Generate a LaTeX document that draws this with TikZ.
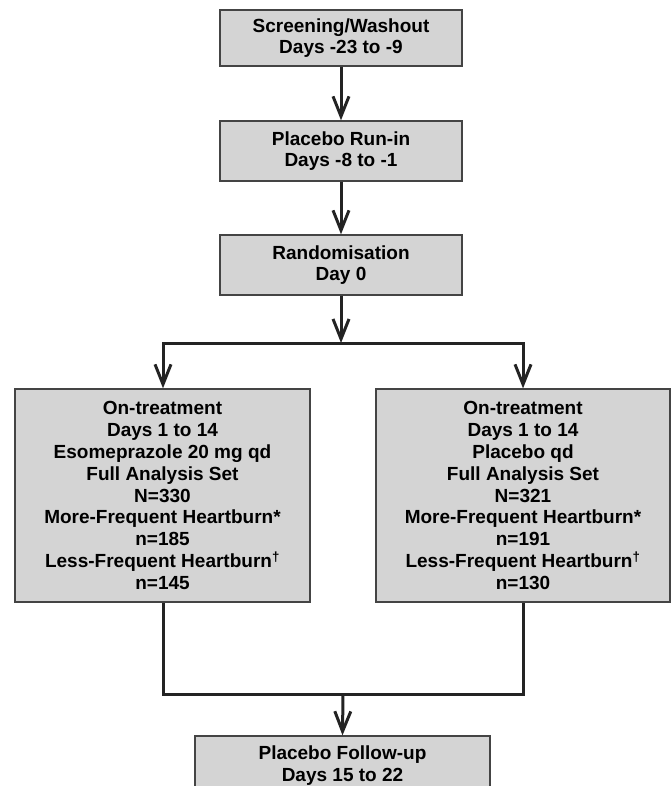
\documentclass[tikz,border=0pt]{standalone}
\usepackage{fontspec}
\setmainfont{Liberation Sans}
\usetikzlibrary{arrows.meta}
\definecolor{boxgray}{RGB}{212,212,212}
\definecolor{linegray}{RGB}{35,35,35}
\begin{document}
\begin{tikzpicture}[x=1pt,y=-1pt,
  box/.style={draw=linegray!85, line width=1.3pt, fill=boxgray, align=center,
    font=\fontsize{19}{21.8}\selectfont\bfseries, inner sep=0pt},
  conn/.style={draw=linegray, line width=3pt},
  arr/.style={conn, -{Straight Barb[length=20pt,width=16pt]}}]
\useasboundingbox (0,0) rectangle (671,786);
\clip (0,0) rectangle (671,786);
\node[box, minimum width=242pt, minimum height=56pt] (s) at (341,38)
  {Screening/Washout\\Days -23 to -9};
\node[box, minimum width=242pt, minimum height=60pt] (p) at (341,151)
  {Placebo Run-in\\Days -8 to -1};
\node[box, minimum width=242pt, minimum height=60pt] (r) at (341,265)
  {Randomisation\\Day 0};
\node[box, minimum width=295pt, minimum height=213pt] (L) at (162.5,495.5)
  {On-treatment\\Days 1 to 14\\Esomeprazole 20 mg qd\\Full Analysis Set\\N=330\\More-Frequent Heartburn*\\n=185\\Less-Frequent Heartburn\textsuperscript{†}\\n=145};
\node[box, minimum width=294pt, minimum height=213pt] (R) at (523,495.5)
  {On-treatment\\Days 1 to 14\\Placebo qd\\Full Analysis Set\\N=321\\More-Frequent Heartburn*\\n=191\\Less-Frequent Heartburn\textsuperscript{†}\\n=130};
\node[box, minimum width=295pt, minimum height=60pt, font=\fontsize{19}{22}\selectfont\bfseries] (F) at (342.5,766)
  {Placebo Follow-up\\Days 15 to 22};
\draw[arr] (s) -- (p);
\draw[arr] (p) -- (r);
\coordinate (jm) at (341,343);
\coordinate (jl) at (163,343);
\coordinate (jr) at (523,343);
\draw[arr] (r.south) -- (jm);
\draw[arr] (jl) -- (jr |- jl) -- (jr |- R.north);
\draw[arr] (jr) -- (jl) -- (jl |- L.north);
\coordinate (bl) at (163,694);
\coordinate (br) at (523,694);
\coordinate (bm) at (343,694);
\draw[conn] (bl |- L.south) -- (bl) -- (br) -- (br |- R.south);
\draw[arr] (bm) -- (F.north);
\end{tikzpicture}
\end{document}
